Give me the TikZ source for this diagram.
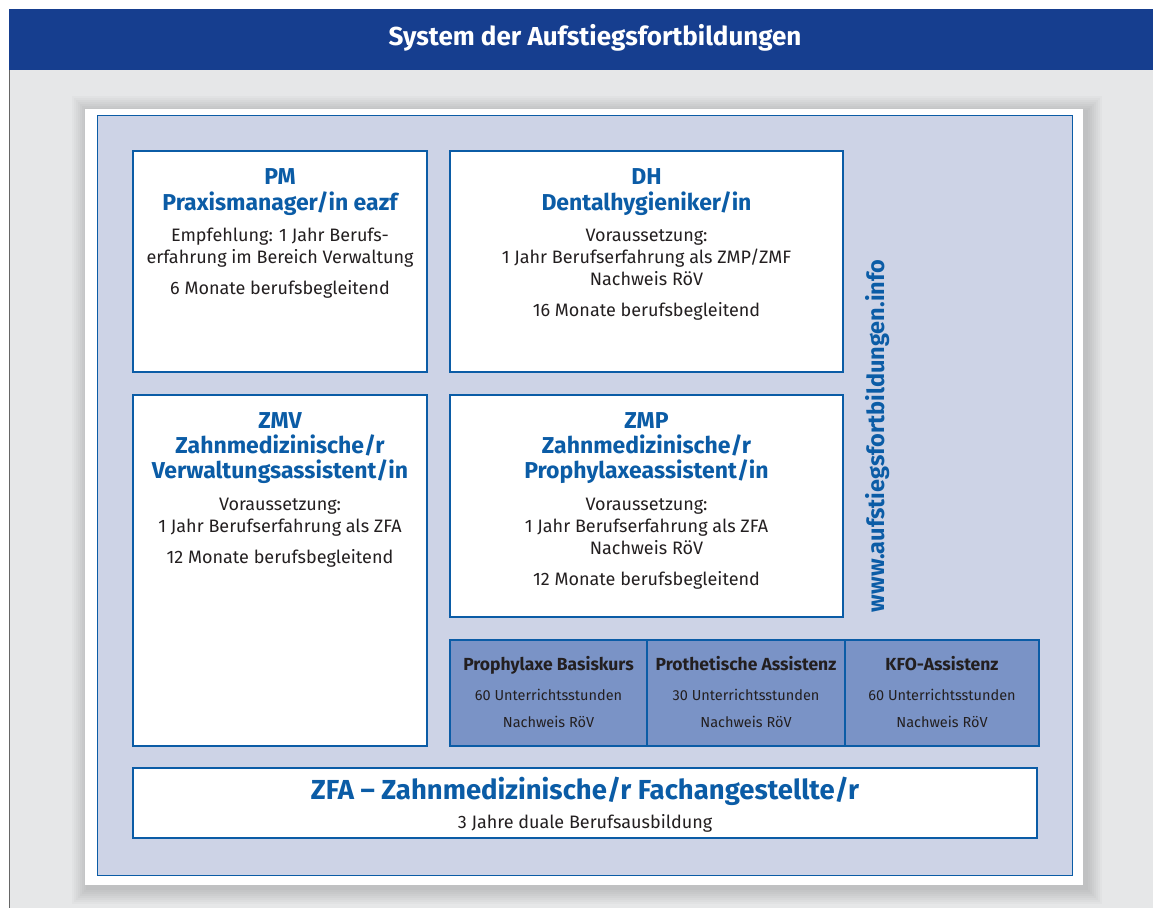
\documentclass[tikz,border=0pt]{standalone}
\usepackage{fontspec}
\setmainfont{Fira Sans}
\usetikzlibrary{positioning}
\definecolor{hdrblue}{HTML}{163E8F}
\definecolor{bggray}{HTML}{E6E7E8}
\definecolor{panelblue}{HTML}{CDD3E6}
\definecolor{lineblue}{HTML}{0B5CA6}
\definecolor{coursefill}{HTML}{7A93C6}
\definecolor{textdark}{HTML}{231F20}
\tikzset{
  qualbox/.style={draw=lineblue,line width=1.6pt,fill=white,inner sep=0pt},
  coursebox/.style={draw=lineblue,line width=1.6pt,fill=coursefill,inner sep=0pt,minimum height=106pt},
  qualtext/.style={anchor=north,align=center,inner sep=0pt,text=textdark,font=\fontsize{18}{22}\selectfont},
  coursetext/.style={anchor=north,align=center,inner sep=0pt,text=textdark,font=\fontsize{14.5}{27}\selectfont},
}
\newcommand{\qhead}[1]{{\color{lineblue}\bfseries\fontsize{23}{26}\selectfont #1}}
\begin{document}
\begin{tikzpicture}[x=1pt,y=-1pt]
  \useasboundingbox (0,0) rectangle (1153,908);
  % background and title bar
  \fill[bggray] (9,70) rectangle (1153,908);
  \draw[black!60,line width=1pt] (9.5,70) -- (9.5,908);
  \fill[hdrblue] (9,9) rectangle (1153,70);
  \node (title) at (595,38) [text=white,font=\bfseries\fontsize{26}{30}\selectfont] {System der Aufstiegsfortbildungen};
  % panel with soft shadow
  \foreach \s in {2,4,...,16}
    \fill[black,opacity=0.018] (85-\s+3,109-\s+3) rectangle (1083+\s+3,885+\s+3);
  \fill[white] (85,109) rectangle (1083,885);
  \draw[lineblue,line width=1.6pt,fill=panelblue] (97.5,115.5) rectangle (1072.5,875.5);
  % qualification boxes
  \node (PM) at (280,261.5) [qualbox,minimum width=294pt,minimum height=221pt] {};
  \node (DH) at (646.5,261.5) [qualbox,minimum width=393pt,minimum height=221pt] {};
  \node (ZMV) at (280,570.5) [qualbox,minimum width=294pt,minimum height=351pt] {};
  \node (ZMP) at (646.5,506) [qualbox,minimum width=393pt,minimum height=222pt] {};
  \node (PMtext) at ([yshift=-18pt]PM.north) [qualtext] {\qhead{PM}\\[4pt] \qhead{Praxismanager/in eazf}\\[9pt]
    Empfehlung: 1 Jahr Berufs-\\ erfahrung im Bereich Verwaltung\\[9pt] 6 Monate berufsbegleitend};
  \node (DHtext) at ([yshift=-18pt]DH.north) [qualtext] {\qhead{DH}\\[4pt] \qhead{Dentalhygieniker/in}\\[9pt]
    Voraussetzung:\\ 1 Jahr Berufserfahrung als ZMP/ZMF\\ Nachweis RöV\\[9pt] 16 Monate berufsbegleitend};
  \node (ZMVtext) at ([yshift=-18pt]ZMV.north) [qualtext] {\qhead{ZMV}\\[3pt] \qhead{Zahnmedizinische/r}\\[3pt] \qhead{Verwaltungsassistent/in}\\[10pt]
    Voraussetzung:\\ 1 Jahr Berufserfahrung als ZFA\\[9pt] 12 Monate berufsbegleitend};
  \node (ZMPtext) at ([yshift=-18pt]ZMP.north) [qualtext] {\qhead{ZMP}\\[3pt] \qhead{Zahnmedizinische/r}\\[3pt] \qhead{Prophylaxeassistent/in}\\[10pt]
    Voraussetzung:\\ 1 Jahr Berufserfahrung als ZFA\\ Nachweis RöV\\[9pt] 12 Monate berufsbegleitend};
  % courses
  \node (basis) at (548.5,693) [coursebox,minimum width=197pt] {};
  \node (prot) at (746,693) [coursebox,minimum width=198pt] {};
  \node (kfo) at (942,693) [coursebox,minimum width=194pt] {};
  \node (basistext) at ([yshift=-17pt]basis.north) [coursetext] {{\bfseries\fontsize{17.5}{20}\selectfont Prophylaxe Basiskurs}\\[3pt] 60 Unterrichtsstunden\\ Nachweis RöV};
  \node (prottext) at ([yshift=-17pt]prot.north) [coursetext] {{\bfseries\fontsize{17.5}{20}\selectfont Prothetische Assistenz}\\[3pt] 30 Unterrichtsstunden\\ Nachweis RöV};
  \node (kfotext) at ([yshift=-17pt]kfo.north) [coursetext] {{\bfseries\fontsize{17.5}{20}\selectfont KFO-Assistenz}\\[3pt] 60 Unterrichtsstunden\\ Nachweis RöV};
  % ZFA
  \node (ZFA) at (585,803) [qualbox,minimum width=904pt,minimum height=70pt] {};
  \node (ZFAtext) at ([yshift=-10pt]ZFA.north) [qualtext] {{\color{lineblue}\bfseries\fontsize{27.5}{30}\selectfont ZFA -- Zahnmedizinische/r Fachangestellte/r}\\[7pt] 3 Jahre duale Berufsausbildung};
  % web address
  \node (web) at (878,436) [rotate=90,text=lineblue,font=\bfseries\fontsize{23.5}{26}\selectfont] {www.aufstiegsfortbildungen.info};
\end{tikzpicture}
\end{document}
